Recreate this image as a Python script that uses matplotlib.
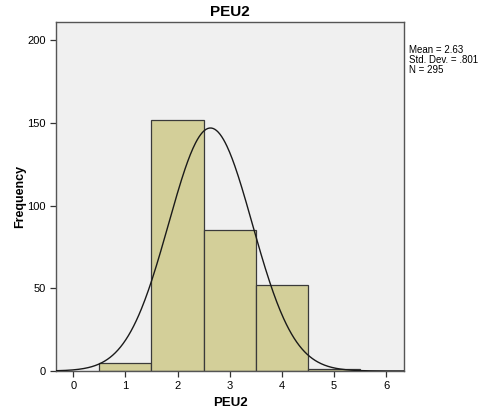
import numpy as np
import matplotlib.pyplot as plt

plt.rcParams['font.family'] = ['Liberation Sans', 'DejaVu Sans']

# bin centres and counts
bins = [1, 2, 3, 4, 5]
counts = [5, 152, 85, 52, 1]
mean = 2.63
sd = 0.801
n = 295

fig = plt.figure(figsize=(4.81, 4.20), dpi=100)
ax = fig.add_axes([0.1164, 0.1167, 0.7236, 0.8309])
ax.set_facecolor('#f0f0f0')

ax.bar(bins, counts, width=1.0, color='#d3cf99', edgecolor='#3a3a3a', linewidth=0.9, zorder=2)

x = np.linspace(-0.33, 6.34, 400)
y = n * 1.0 / (sd * np.sqrt(2 * np.pi)) * np.exp(-0.5 * ((x - mean) / sd) ** 2)
ax.plot(x, y, color='#1a1a1a', linewidth=1.0, zorder=3)

ax.set_xlim(-0.33, 6.34)
ax.set_ylim(0, 211)
ax.set_xticks(range(0, 7))
ax.set_yticks([0, 50, 100, 150, 200])
ax.tick_params(direction='out', length=4, width=0.9, labelsize=8, color='#333333')
for s in ax.spines.values():
    s.set_color('#555555')
    s.set_linewidth(1.0)

ax.set_title('PEU2', fontsize=11, fontweight='bold', pad=4)
ax.set_xlabel('PEU2', fontsize=9.5, fontweight='bold', labelpad=4)
ax.set_ylabel('Frequency', fontsize=9, fontweight='bold', labelpad=1)

fig.text(0.851, 0.893, 'Mean = 2.63\nStd. Dev. = .801\nN = 295', fontsize=7,
         va='top', ha='left', linespacing=1.0)

fig.savefig('out.png', dpi=100)
